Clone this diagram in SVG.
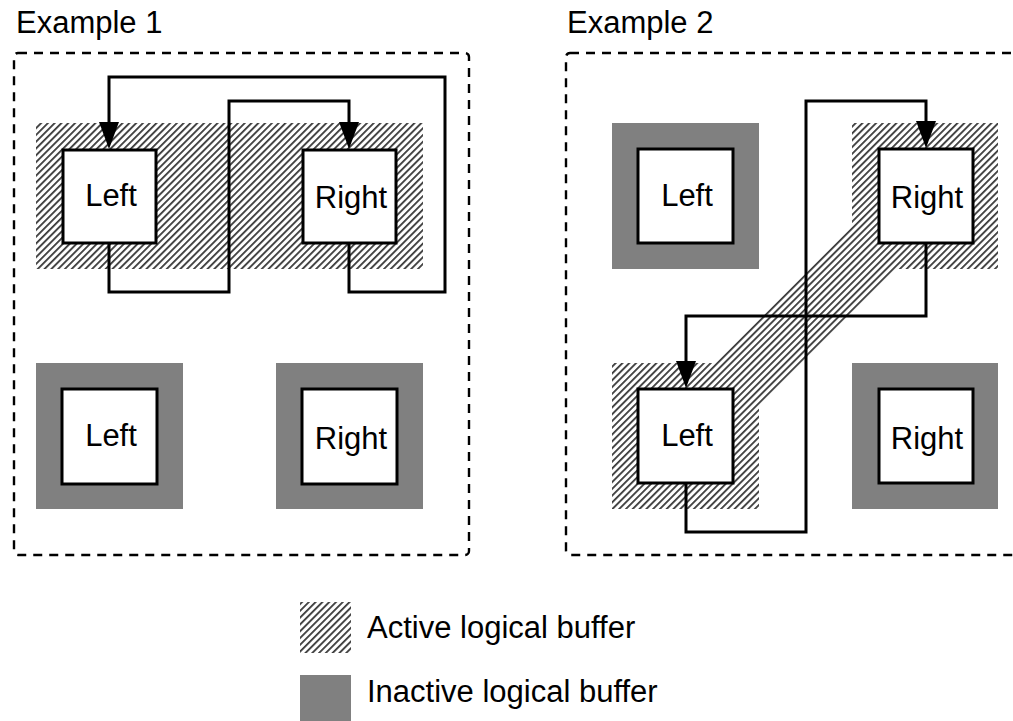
<svg xmlns="http://www.w3.org/2000/svg" width="1013" height="721" viewBox="0 0 1013 721">
<style>
.lbl{font-family:"Liberation Sans",Arial,sans-serif;font-size:31px;fill:#000}
.frame{fill:none;stroke:#000;stroke-width:2.4;stroke-dasharray:9 7}
.box{fill:#fff;stroke:#000;stroke-width:3}
.act{fill:url(#hatch)}
.inact{fill:#808080}
.conn{fill:none;stroke:#000;stroke-width:3;marker-end:url(#arr)}
</style>
<defs>
<pattern id="hatch" patternUnits="userSpaceOnUse" width="4.8" height="4.8" patternTransform="rotate(45)">
<rect width="4.8" height="4.8" fill="#fff"/>
<rect width="1.8" height="4.8" fill="#3a3a3a"/>
</pattern>
<marker id="arr" markerUnits="userSpaceOnUse" markerWidth="27" markerHeight="20" refX="22" refY="10" orient="auto">
<path d="M0,0 L27,10 L0,20 Z" fill="#000"/>
</marker>
</defs>
<rect width="1013" height="721" fill="#fff"/>

<g id="example1">
<text class="lbl" x="16" y="33">Example 1</text>
<rect class="frame" x="14" y="53" width="455" height="502" rx="4"/>
<rect class="act" x="36" y="123" width="387" height="146"/>
</g>
<g id="example2">
<text class="lbl" x="567" y="33">Example 2</text>
<rect class="frame" x="566" y="53" width="480" height="502" rx="4"/>
<rect class="act" x="852" y="123" width="146" height="146"/>
<rect class="act" x="612" y="363" width="147" height="146"/>
<polygon class="act" points="903,174 947,218 707,458 663,414"/>
</g>

<g id="e1-left-top">
<rect class="box" x="63" y="150" width="93" height="93"/>
<text class="lbl" x="111" y="206" text-anchor="middle">Left</text>
</g>
<g id="e1-right-top">
<rect class="box" x="303" y="150" width="93" height="93"/>
<text class="lbl" x="351" y="208" text-anchor="middle">Right</text>
</g>
<g id="e1-left-bottom">
<rect class="inact" x="36" y="363" width="147" height="146"/>
<rect class="box" x="62" y="389" width="95" height="95"/>
<text class="lbl" x="111" y="446" text-anchor="middle">Left</text>
</g>
<g id="e1-right-bottom">
<rect class="inact" x="276" y="363" width="147" height="146"/>
<rect class="box" x="302" y="389" width="95" height="95"/>
<text class="lbl" x="351" y="449" text-anchor="middle">Right</text>
</g>

<g id="e2-left-top">
<rect class="inact" x="612" y="123" width="147" height="146"/>
<rect class="box" x="638" y="149" width="95" height="94"/>
<text class="lbl" x="687" y="206" text-anchor="middle">Left</text>
</g>
<g id="e2-right-top">
<rect class="box" x="879" y="149" width="94" height="94"/>
<text class="lbl" x="927" y="208" text-anchor="middle">Right</text>
</g>
<g id="e2-left-bottom">
<rect class="box" x="638" y="389" width="95" height="94"/>
<text class="lbl" x="687" y="446" text-anchor="middle">Left</text>
</g>
<g id="e2-right-bottom">
<rect class="inact" x="852" y="363" width="146" height="146"/>
<rect class="box" x="879" y="389" width="94" height="94"/>
<text class="lbl" x="927" y="449" text-anchor="middle">Right</text>
</g>

<g id="connectors">
<path class="conn" d="M349,244 V292 H445 V77 H109 V144"/>
<path class="conn" d="M109,244 V292 H229 V101 H349 V144"/>
<path class="conn" d="M926,244 V316 H686 V383"/>
<path class="conn" d="M686,484 V532 H806 V101 H926 V143"/>
</g>

<g id="legend">
<rect class="act" x="300" y="602" width="51" height="51"/>
<text class="lbl" x="367" y="638">Active logical buffer</text>
<rect class="inact" x="300" y="675" width="51" height="51"/>
<text class="lbl" x="367" y="702">Inactive logical buffer</text>
</g>
</svg>
